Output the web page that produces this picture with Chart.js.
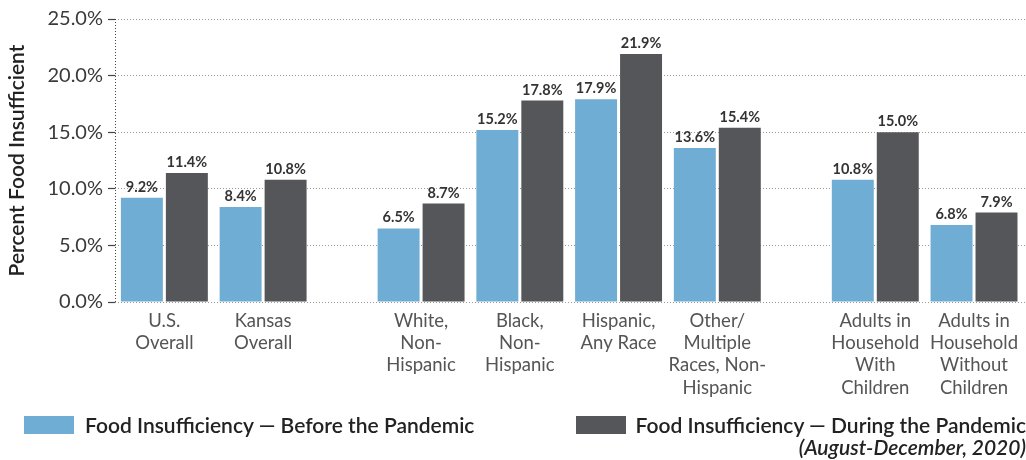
<!DOCTYPE html>
<html>
<head>
<meta charset="utf-8">
<script src="https://cdn.jsdelivr.net/npm/chart.js@4"></script>
<style>
  body { margin: 0; background: #fff; font-family: Lato, sans-serif; }
  #wrap { position: relative; width: 1026px; height: 460px; }
  .key { position: absolute; width: 50px; height: 18px; top: 416px; }
  .lbl { position: absolute; top: 412px; font-size: 21px; font-weight: 600; color: #222; white-space: nowrap; line-height: 26px; }
  .sub { position: absolute; top: 435px; right: 0px; font-size: 21px; font-weight: 600; font-style: italic; color: #222; line-height: 24px; white-space: nowrap; }
</style>
</head>
<body>
<div id="wrap">
  <canvas id="myChart" width="1026" height="460"></canvas>
  <div class="key" style="left:24px;background:#6fadd4"></div>
  <div class="lbl" style="left:85px">Food Insufficiency — Before the Pandemic</div>
  <div class="key" style="left:576px;background:#555659"></div>
  <div class="lbl" style="right:0px">Food Insufficiency — During the Pandemic</div>
  <div class="sub">(August-December, 2020)</div>
</div>
<script>
// categories, split over lines as in the original
const categories = [
  ['U.S.', 'Overall'],
  ['Kansas', 'Overall'],
  ['White,', 'Non-', 'Hispanic'],
  ['Black,', 'Non-', 'Hispanic'],
  ['Hispanic,', 'Any Race'],
  ['Other/', 'Multiple', 'Races, Non-', 'Hispanic'],
  ['Adults in', 'Household', 'With', 'Children'],
  ['Adults in', 'Household', 'Without', 'Children']
];
// which group each category is in (groups are drawn with a gap between them)
const groupOf = [0, 0, 1, 1, 1, 1, 2, 2];
const beforePandemic = [9.2, 8.4, 6.5, 15.2, 17.9, 13.6, 10.8, 6.8];
const duringPandemic = [11.4, 10.8, 8.7, 17.8, 21.9, 15.4, 15.0, 7.9];
const yTicks = [0, 5, 10, 15, 20, 25];

const GROUP_GAP = 0.6;
const xPos = categories.map((c, i) => i + groupOf[i] * GROUP_GAP);

const blue = '#6fadd4';
const dark = '#555659';

// value labels on top of the bars
const barLabels = {
  id: 'barLabels',
  afterDatasetsDraw(chart) {
    const ctx = chart.ctx;
    ctx.save();
    ctx.font = 'bold 14.5px Lato';
    ctx.fillStyle = '#333';
    ctx.textAlign = 'center';
    ctx.textBaseline = 'alphabetic';
    chart.data.datasets.forEach((ds, d) => {
      chart.getDatasetMeta(d).data.forEach((bar, i) => {
        ctx.fillText(ds.data[i].y.toFixed(1) + '%', bar.x, bar.y - 6);
      });
    });
    ctx.restore();
  }
};

// dotted y axis line
const leftAxis = {
  id: 'leftAxis',
  beforeDatasetsDraw(chart) {
    const {ctx, chartArea} = chart;
    ctx.save();
    ctx.strokeStyle = '#444';
    ctx.lineWidth = 1;
    ctx.setLineDash([1, 2]);
    ctx.beginPath();
    ctx.moveTo(chartArea.left + 0.5, chartArea.top);
    ctx.lineTo(chartArea.left + 0.5, chartArea.bottom);
    ctx.stroke();
    ctx.restore();
  }
};

const ctx = document.getElementById('myChart').getContext('2d');
const myChart = new Chart(ctx, {
  type: 'bar',
  data: {
    datasets: [
      {
        label: 'Food Insufficiency — Before the Pandemic',
        data: xPos.map((x, i) => ({x: x, y: beforePandemic[i]})),
        backgroundColor: blue
      },
      {
        label: 'Food Insufficiency — During the Pandemic',
        data: xPos.map((x, i) => ({x: x, y: duringPandemic[i]})),
        backgroundColor: dark
      }
    ]
  },
  options: {
    responsive: false,
    animation: false,
    categoryPercentage: 0.911,
    barPercentage: 0.933,
    layout: { padding: { top: 19, left: 0, right: 0, bottom: 58 } },
    plugins: {
      legend: { display: false },
      tooltip: { enabled: false }
    },
    scales: {
      x: {
        type: 'linear',
        offset: false,
        min: -0.5,
        max: xPos[xPos.length - 1] + 0.52,
        afterBuildTicks: s => { s.ticks = xPos.map(v => ({value: v})); },
        afterFit: s => { s.height = 100; },
        grid: { display: false, drawTicks: false },
        border: { display: false },
        ticks: {
          autoSkip: false,
          maxRotation: 0,
          padding: 8,
          color: '#555',
          font: { family: 'Lato', size: 18.5, lineHeight: 1.2 },
          callback: v => categories[xPos.indexOf(v)]
        }
      },
      y: {
        min: 0,
        max: 25,
        afterBuildTicks: s => { s.ticks = yTicks.map(v => ({value: v})); },
        afterFit: s => { s.width = 115; },
        grid: {
          color: '#999',
          tickColor: '#444',
          tickLength: 7,
          tickWidth: 1.2,
          tickBorderDash: []
        },
        border: { display: false, dash: [1, 2] },
        ticks: {
          padding: 5,
          color: '#3a3a3a',
          font: { family: 'Lato', size: 20 },
          callback: v => v.toFixed(1) + '%'
        },
        title: {
          display: true,
          text: 'Percent Food Insufficient',
          color: '#222',
          padding: { top: 5, bottom: 0 },
          font: { family: 'Lato', size: 21, weight: '600', lineHeight: 1.2 }
        }
      }
    }
  },
  plugins: [barLabels, leftAxis]
});
</script>
</body>
</html>
